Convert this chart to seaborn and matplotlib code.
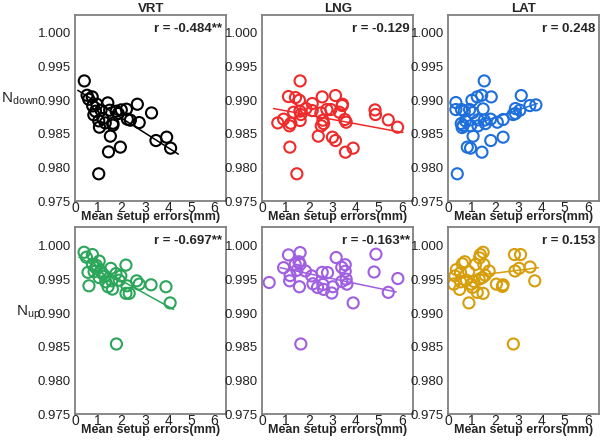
import numpy as np
import pandas as pd
import matplotlib
matplotlib.use("Agg")
import matplotlib.pyplot as plt
import seaborn as sns
from matplotlib.ticker import MultipleLocator

sns.set_theme(style="white")
plt.rcParams['font.family'] = ['Liberation Sans', 'DejaVu Sans']

# ---- data ----
vrt_down_x = [0.40, 0.52, 0.59, 0.74, 0.76, 0.88, 0.81, 0.94, 1.02, 1.05, 1.02, 1.20, 1.30, 1.41, 1.49,
              1.52, 1.63, 1.63, 1.44, 1.77, 1.86, 1.99, 1.95, 2.21, 2.25, 2.38, 2.68, 2.76, 3.29, 3.48,
              3.94, 4.11, 1.12]
vrt_down_y = [0.99284, 0.99071, 0.99012, 0.99047, 0.98913, 0.98834, 0.98780, 0.98938, 0.98691, 0.98597,
              0.97905, 0.98725, 0.98661, 0.98958, 0.98849, 0.98464, 0.98627, 0.98656, 0.98231, 0.98834,
              0.98800, 0.98854, 0.98301, 0.98864, 0.98716, 0.98701, 0.98938, 0.98666, 0.98809, 0.98399,
              0.98449, 0.98286, 0.98849]

lng_down_x = [0.67, 0.92, 1.19, 1.13, 1.17, 1.23, 1.35, 1.43, 1.49, 1.60, 1.63, 1.62, 1.63, 1.66, 1.88,
              2.15, 2.15, 2.41, 2.52, 2.58, 2.54, 2.61, 2.64, 2.78, 2.95, 3.02, 3.15, 3.15, 3.32, 3.45,
              3.44, 3.55, 3.61, 3.58, 3.91, 4.85, 4.87, 5.42, 5.82]
lng_down_y = [0.98661, 0.98716, 0.98301, 0.99052, 0.98617, 0.98656, 0.98819, 0.99037, 0.97905, 0.98997,
              0.99284, 0.98834, 0.98696, 0.98785, 0.98874, 0.98948, 0.98844, 0.98464, 0.98809, 0.99047,
              0.98617, 0.98701, 0.98651, 0.98859, 0.98859, 0.98449, 0.99067, 0.98399, 0.98819, 0.98938,
              0.98918, 0.98711, 0.98671, 0.98226, 0.98286, 0.98854, 0.98785, 0.98706, 0.98597]

lat_down_x = [0.33, 0.33, 0.39, 0.57, 0.56, 0.60, 0.64, 0.69, 0.74, 0.82, 0.92, 0.96, 0.96, 1.02, 1.06,
              1.07, 1.25, 1.28, 1.28, 1.44, 1.45, 1.50, 1.55, 1.55, 1.60, 1.82, 1.85, 1.83, 2.11, 2.36,
              2.36, 2.79, 2.89, 2.89, 3.08, 3.14, 3.51, 3.77]
lat_down_y = [0.98963, 0.98859, 0.97905, 0.98859, 0.98651, 0.98592, 0.98622, 0.98834, 0.98691, 0.98301,
              0.98859, 0.98617, 0.98286, 0.98997, 0.98814, 0.98464, 0.99047, 0.98706, 0.98617, 0.99071,
              0.98226, 0.98869, 0.99284, 0.98701, 0.98651, 0.98716, 0.99047, 0.98399, 0.98671, 0.98711,
              0.98449, 0.98785, 0.98874, 0.98800, 0.98849, 0.99067, 0.98918, 0.98928]

vrt_up_x = [0.39, 0.49, 0.56, 0.60, 0.75, 0.75, 0.82, 0.89, 0.92, 1.04, 1.04, 1.11, 1.18, 1.28, 1.32,
            1.42, 1.54, 1.58, 1.61, 1.76, 1.78, 1.90, 1.97, 2.19, 2.23, 2.19, 2.33, 2.65, 2.76, 3.27,
            3.91, 4.09]
vrt_up_y = [0.99902, 0.99829, 0.99604, 0.99404, 0.99868, 0.99722, 0.99614, 0.99673, 0.99707, 0.99771,
            0.99526, 0.99624, 0.99585, 0.99551, 0.99463, 0.99390, 0.99663, 0.99478, 0.99355, 0.99585,
            0.98540, 0.99487, 0.99551, 0.99712, 0.99404, 0.99292, 0.99292, 0.99478, 0.99429, 0.99419,
            0.99390, 0.99150]

lng_up_x = [0.30, 0.92, 1.13, 1.18, 1.20, 1.42, 1.49, 1.58, 1.60, 1.63, 1.66, 1.63, 1.86, 2.13, 2.18,
            2.38, 2.58, 2.61, 2.64, 2.81, 2.99, 3.04, 3.18, 3.42, 3.42, 3.57, 3.57, 3.61, 3.64, 3.91,
            4.81, 4.89, 5.42, 5.83]
lng_up_y = [0.99453, 0.99673, 0.99863, 0.99478, 0.99556, 0.99722, 0.99634, 0.99761, 0.99390, 0.99897,
            0.98540, 0.99722, 0.99624, 0.99551, 0.99434, 0.99380, 0.99604, 0.99424, 0.99351, 0.99600,
            0.99297, 0.99390, 0.99824, 0.99678, 0.99468, 0.99717, 0.99619, 0.99502, 0.99429, 0.99150,
            0.99609, 0.99873, 0.99307, 0.99512]

lat_up_x = [0.24, 0.29, 0.35, 0.49, 0.53, 0.53, 0.61, 0.71, 0.78, 0.88, 0.89, 0.99, 1.04, 1.10, 1.18,
            1.25, 1.33, 1.35, 1.38, 1.50, 1.47, 1.50, 1.53, 1.59, 1.76, 2.07, 2.33, 2.36, 2.80, 2.85,
            2.87, 3.05, 3.11, 3.52, 3.72]
lat_up_y = [0.99429, 0.99551, 0.99644, 0.99351, 0.99600, 0.99463, 0.99731, 0.99761, 0.99487, 0.99614,
            0.99150, 0.99429, 0.99380, 0.99468, 0.99722, 0.99307, 0.99502, 0.99819, 0.99868, 0.99902,
            0.99526, 0.99292, 0.99722, 0.99561, 0.99624, 0.99429, 0.99395, 0.99419, 0.98540, 0.99868,
            0.99624, 0.99663, 0.99868, 0.99683, 0.99478]

# fitted lines (end points)
line_x = [[0.12, 4.44], [0.49, 6.05], [0.46, 3.83], [0.17, 4.24], [0.77, 5.76], [0.20, 3.88]]
line_y = [[0.99145, 0.98197], [0.98874, 0.98518], [0.98563, 0.98948],
          [0.99829, 0.99053], [0.99673, 0.99312], [0.99512, 0.99673]]

r_labels = ['r = -0.484**', 'r = -0.129', 'r = 0.248', 'r = -0.697**', 'r = -0.163**', 'r = 0.153']
col_titles = ['VRT', 'LNG', 'LAT']
row_labels = ['N$_{\\mathregular{down}}$', 'N$_{\\mathregular{up}}$']
colors = ['#000000', '#ee2a2a', '#1e6fdc', '#2ba65a', '#a05ee0', '#d69e0a']

xs = [vrt_down_x, lng_down_x, lat_down_x, vrt_up_x, lng_up_x, lat_up_x]
ys = [vrt_down_y, lng_down_y, lat_down_y, vrt_up_y, lng_up_y, lat_up_y]

fig = plt.figure(figsize=(6, 4.4), dpi=100)
lefts = [0.125, 0.437, 0.747]
bottoms = [0.543, 0.059]
w, h = 0.252, 0.424

for i in range(6):
    row, col = divmod(i, 3)
    ax = fig.add_axes([lefts[col], bottoms[row], w, h])
    df = pd.DataFrame({'x': xs[i], 'y': ys[i]})
    sns.scatterplot(data=df, x='x', y='y', ax=ax, marker='o', s=64,
                    facecolor='none', edgecolor=colors[i], linewidth=1.5)
    sns.lineplot(x=line_x[i], y=line_y[i], ax=ax, color=colors[i], linewidth=1.1)
    ax.set_xlim(0, 6.5)
    ax.set_ylim(0.975, 1.0027)
    ax.xaxis.set_major_locator(MultipleLocator(1))
    ax.xaxis.set_minor_locator(MultipleLocator(0.5))
    ax.yaxis.set_major_locator(MultipleLocator(0.005))
    ax.yaxis.set_minor_locator(MultipleLocator(0.0025))
    ax.yaxis.set_major_formatter(plt.FormatStrFormatter('%.3f'))
    ax.tick_params(which='both', direction='in', colors='#555555', labelcolor='#222222',
                   labelsize=9.5, pad=3)
    ax.tick_params(which='major', length=3, width=0.8)
    ax.tick_params(which='minor', length=2, width=0.6)
    ax.tick_params(axis='x', labelsize=10, pad=0)
    for sp in ax.spines.values():
        sp.set_color('#808080')
        sp.set_linewidth(1.3)
    ax.set_xlabel('Mean setup errors(mm)', fontsize=9, fontweight='bold', labelpad=-3)
    ax.set_ylabel('')
    ax.text(0.975, 0.925, r_labels[i], transform=ax.transAxes, ha='right', va='center',
            fontsize=9.5, fontweight='bold')
    if row == 0:
        ax.set_title(col_titles[col], fontsize=9.5, fontweight='bold', pad=1.5)

fig.text(0.034, 0.775, row_labels[0], fontsize=11, ha='center', va='center')
fig.text(0.048, 0.29, row_labels[1], fontsize=11, ha='center', va='center')

plt.savefig('out.png', dpi=100)
plt.close()
